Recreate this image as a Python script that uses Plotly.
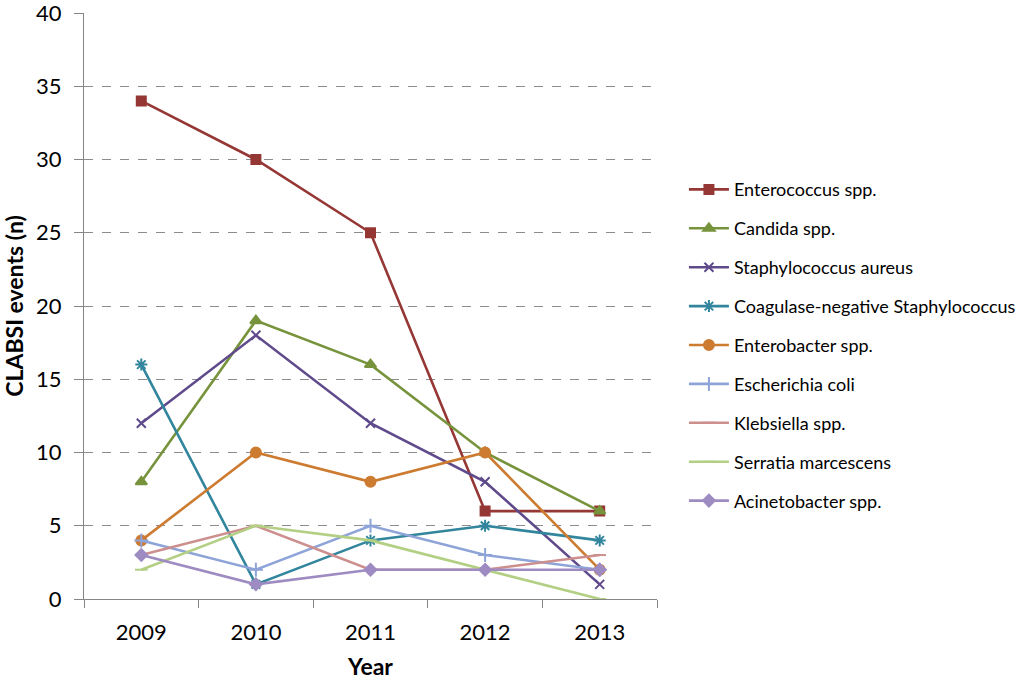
import plotly.graph_objects as go

years = ["2009", "2010", "2011", "2012", "2013"]

enterococcus = [34, 30, 25, 6, 6]
candida = [8, 19, 16, 10, 6]
staph_aureus = [12, 18, 12, 8, 1]
cons = [16, 1, 4, 5, 4]
enterobacter = [4, 10, 8, 10, 2]
e_coli = [4, 2, 5, 3, 2]
klebsiella = [3, 5, 2, 2, 3]
serratia = [2, 5, 4, 2, 0]
acinetobacter = [3, 1, 2, 2, 2]

series = [
    ("Enterococcus spp.", enterococcus, "#953735", "square", 9),
    ("Candida spp.", candida, "#77933C", "triangle-up", 10),
    ("Staphylococcus aureus", staph_aureus, "#5F4A8B", "x-thin-open", 9),
    ("Coagulase-negative Staphylococcus", cons, "#31859C", "asterisk-open", 10),
    ("Enterobacter spp.", enterobacter, "#CD7B31", "circle", 10),
    ("Escherichia coli", e_coli, "#8EA4D8", "cross-thin-open", 10),
    ("Klebsiella spp.", klebsiella, "#CC8F8D", "line-ew-open", 9),
    ("Serratia marcescens", serratia, "#B2CF83", "line-ew-open", 9),
    ("Acinetobacter spp.", acinetobacter, "#9E8BC2", "diamond", 9),
]

fig = go.Figure()
for i, (name, vals, color, sym, size) in enumerate(series):
    fig.add_trace(go.Scatter(
        x=years, y=vals, name=name, mode="lines+markers",
        line=dict(color=color, width=2.6),
        marker=dict(symbol=sym, size=size, color=color,
                    line=dict(color=color, width=2)),
        legendgroup=f"g{i}",
    ))

fig.update_layout(
    width=1024, height=680, autosize=False,
    margin=dict(l=84, r=367, t=13, b=81, autoexpand=False),
    paper_bgcolor="white", plot_bgcolor="white",
    font=dict(family="Lato, Noto Sans, sans-serif", color="#000000"),
    showlegend=True,
    legend=dict(
        x=1.047, y=0.73, xanchor="left", yanchor="top",
        font=dict(size=18, color="#000000"),
        itemwidth=40,
        tracegroupgap=12.5, traceorder="grouped",
        bgcolor="rgba(0,0,0,0)",
    ),
    xaxis=dict(
        type="category", range=[-0.5, 4.5], automargin=False,
        showline=True, linecolor="#868686", linewidth=1,
        ticks="outside", tickson="boundaries", ticklen=8, tickcolor="#868686",
        showgrid=False, zeroline=False,
        tickfont=dict(size=22), ticklabelstandoff=14,
        title=dict(text="<b>Year</b>", font=dict(size=23), standoff=16),
    ),
    yaxis=dict(
        range=[0, 40], dtick=5, automargin=False,
        showline=True, linecolor="#868686", linewidth=1,
        ticks="outside", ticklen=9, tickcolor="#868686",
        showgrid=True, gridcolor="#8c8c8c", griddash="dash", gridwidth=1,
        zeroline=False, ticklabeloverflow="allow",
        tickfont=dict(size=22), ticklabelstandoff=8,
        title=dict(text="<b>CLABSI events (n)</b>", font=dict(size=23), standoff=6),
    ),
)

fig.write_html(
    "out.html",
    config={"displayModeBar": False, "responsive": False},
    post_script="document.body.style.margin='0';document.body.style.padding='0';document.body.style.overflow='hidden';",
)
